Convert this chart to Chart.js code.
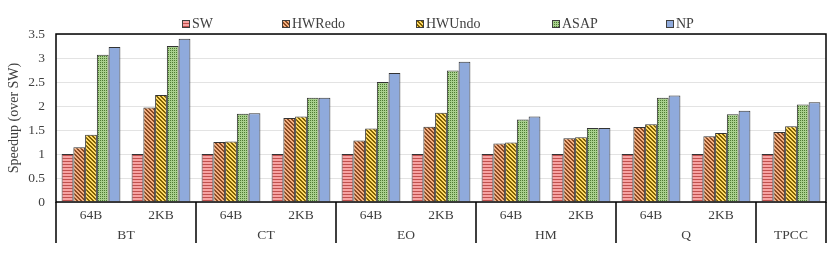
<!DOCTYPE html>
<html>
<head>
<meta charset="utf-8">
<script src="https://cdn.jsdelivr.net/npm/chart.js@4"></script>
<style>html,body{margin:0;padding:0;background:#fff;}</style>
</head>
<body>
<canvas id="c" width="830" height="256"></canvas>
<script>
var subLabels = ['64B', '2KB', '64B', '2KB', '64B', '2KB', '64B', '2KB', '64B', '2KB', ''];
var groups = ['BT', 'CT', 'EO', 'HM', 'Q', 'TPCC'];
var groupSpans = [2, 2, 2, 2, 2, 1];
var seriesNames = ['SW', 'HWRedo', 'HWUndo', 'ASAP', 'NP'];
var sw     = [1, 1, 1, 1, 1, 1, 1, 1, 1, 1, 1];
var hwRedo = [1.14, 1.97, 1.25, 1.75, 1.28, 1.57, 1.22, 1.33, 1.56, 1.37, 1.46];
var hwUndo = [1.40, 2.23, 1.26, 1.78, 1.53, 1.86, 1.24, 1.35, 1.62, 1.44, 1.58];
var asap   = [3.07, 3.25, 1.84, 2.17, 2.50, 2.74, 1.72, 1.54, 2.17, 1.83, 2.03];
var np     = [3.23, 3.40, 1.85, 2.17, 2.69, 2.92, 1.78, 1.54, 2.22, 1.90, 2.08];

var SERIF = '"Liberation Serif", "Times New Roman", serif';
var TXT = '#404040';

// small tile patterns, Excel style
var tile = function(w, h, bg, fg, pixels){
    var c = document.createElement('canvas');
    c.width = w; c.height = h;
    var g = c.getContext('2d');
    g.fillStyle = bg; g.fillRect(0, 0, w, h);
    g.fillStyle = fg;
    for(var i = 0; i < pixels.length; i++){
        g.fillRect(pixels[i][0], pixels[i][1], 1, 1);
    }
    return g.createPattern(c, 'repeat');
};
var hstripe = function(bg, fg){
    return tile(4, 3, bg, fg, [[0,2],[1,2],[2,2],[3,2]]);
};
var diag = function(bg, fg){
    return tile(4, 4, bg, fg, [[0,0],[1,0],[1,1],[2,1],[2,2],[3,2],[3,3],[0,3]]);
};
var dots = function(bg, fg){
    return tile(4, 4, bg, fg, [[0,0],[2,2],[2,0],[0,2]]);
};

var fills = [
    hstripe('#f7a3a3', '#c0504d'),
    diag('#f4b183', '#8a4a22'),
    diag('#ffd966', '#7f6000'),
    dots('#a9d18e', '#4e7a32'),
    '#8faadc'
];
var values = [sw, hwRedo, hwUndo, asap, np];

var datasets = [];
for(var i = 0; i < seriesNames.length; i++){
    datasets.push({
        label: seriesNames[i],
        data: values[i],
        backgroundColor: fills[i],
        borderColor: '#333333',
        borderWidth: 1,
        barPercentage: 1.0,
        categoryPercentage: 0.84
    });
}

var legendX = [182, 282, 416, 552, 666];

var frame = {
    id: 'frame',
    afterDraw: function(chart){
        var ctx = chart.ctx, a = chart.chartArea, x = chart.scales.x;
        ctx.save();
        ctx.strokeStyle = '#000';
        ctx.lineWidth = 1.5;
        ctx.strokeRect(a.left, a.top, a.right - a.left, a.bottom - a.top);

        // group labels and dividers below axis
        ctx.font = '13.5px ' + SERIF;
        ctx.fillStyle = TXT;
        ctx.textAlign = 'center';
        ctx.textBaseline = 'middle';
        var start = 0, edges = [a.left];
        for(var g = 0; g < groups.length; g++){
            var end = start + groupSpans[g];
            var l = start === 0 ? a.left : (x.getPixelForValue(start - 1) + x.getPixelForValue(start)) / 2;
            var r = end === subLabels.length ? a.right : (x.getPixelForValue(end - 1) + x.getPixelForValue(end)) / 2;
            ctx.fillText(groups[g], (l + r) / 2, 235);
            edges.push(r);
            start = end;
        }
        ctx.beginPath();
        edges.forEach(function(e){ ctx.moveTo(e, a.bottom); ctx.lineTo(e, 243); });
        ctx.stroke();

        // legend
        ctx.font = '14px ' + SERIF;
        ctx.textAlign = 'left';
        chart.data.datasets.forEach(function(ds, k){
            var lx = legendX[k];
            ctx.fillStyle = ds.backgroundColor;
            ctx.fillRect(lx, 20.5, 7, 7);
            ctx.strokeStyle = '#404040';
            ctx.lineWidth = 1;
            ctx.strokeRect(lx + 0.5, 20.5, 7, 7);
            ctx.fillStyle = TXT;
            ctx.fillText(ds.label, lx + 10, 24.5);
        });
        ctx.restore();
    }
};

new Chart(document.getElementById('c').getContext('2d'), {
    type: 'bar',
    data: { labels: subLabels, datasets: datasets },
    plugins: [frame],
    options: {
        responsive: false,
        animation: false,
        devicePixelRatio: 1,
        layout: { padding: { top: 34, right: 4, left: 0, bottom: 0 } },
        plugins: { legend: { display: false }, tooltip: { enabled: false } },
        scales: {
            x: {
                grid: { display: false, drawTicks: false },
                border: { display: false },
                ticks: { font: { family: SERIF, size: 13.5 }, color: TXT, padding: 5, maxRotation: 0 },
                afterFit: function(s){ s.height = 54; }
            },
            y: {
                min: 0,
                max: 3.5,
                ticks: {
                    stepSize: 0.5,
                    font: { family: SERIF, size: 13.5 },
                    color: TXT,
                    padding: 11,
                    callback: function(v){ return String(Math.round(v * 10) / 10); }
                },
                grid: { color: '#e3e3e3', drawTicks: false },
                border: { display: false },
                title: {
                    display: true,
                    text: 'Speedup (over SW)',
                    font: { family: SERIF, size: 14 },
                    color: TXT,
                    padding: { top: 6, bottom: 0 }
                },
                afterFit: function(s){ s.width = 56; }
            }
        }
    }
});
</script>
</body>
</html>
